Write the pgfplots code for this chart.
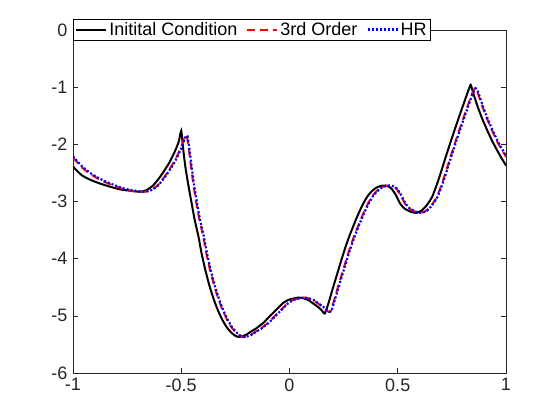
\documentclass[border=0pt]{standalone}
\usepackage{pgfplots}
\pgfplotsset{compat=1.18}
\usepackage{fontspec}
\setmainfont{Liberation Sans}
\definecolor{axgray}{rgb}{0.15,0.15,0.15}
\begin{document}
\begin{tikzpicture}
\useasboundingbox (0,0) rectangle (560pt,420pt);
\begin{axis}[
  at={(73pt,47pt)}, anchor=south west,
  width=433pt, height=343pt, scale only axis,
  xmin=-1, xmax=1, ymin=-6, ymax=0,
  xtick={-1,-0.5,0,0.5,1},
  xticklabels={-1,-0.5,0,0.5,1},
  ytick={-6,-5,-4,-3,-2,-1,0},
  yticklabels={-6,-5,-4,-3,-2,-1,0},
  tick align=inside,
  major tick length=5pt,
  axis line style={axgray, line width=0.6pt},
  every tick/.style={axgray, line width=0.6pt},
  tick label style={font=\fontsize{18}{21}\selectfont, text=axgray},
  xticklabel style={yshift=-2pt},
  yticklabel style={xshift=-2pt},
  legend columns=3,
  legend style={at={(0,1)}, anchor=north west, yshift=11pt,
    font=\fontsize{18}{21}\selectfont, draw=black, line width=0.6pt,
    inner xsep=2pt, inner ysep=1.5pt,
    nodes={inner xsep=2pt, inner ysep=1.5pt},
    /tikz/every even column/.append style={column sep=7pt}},
  legend image code/.code={\draw[#1] (0pt,0pt) -- (30pt,0pt);},
  every axis plot/.append style={smooth, tension=0.3},
]
\addplot[black, line width=2pt] coordinates {
(-1.00,-2.39) (-0.96,-2.54) (-0.92,-2.62) (-0.88,-2.68) (-0.83,-2.74) (-0.78,-2.79) (-0.74,-2.81) (-0.69,-2.83) (-0.66,-2.80) (-0.63,-2.72) (-0.60,-2.58) (-0.58,-2.47) (-0.555,-2.32) (-0.535,-2.17) (-0.52,-2.04) (-0.51,-1.93) (-0.50,-1.76)
(-0.49,-2.12) (-0.48,-2.42) (-0.466,-2.74) (-0.452,-3.03) (-0.438,-3.32) (-0.42,-3.62) (-0.407,-3.89) (-0.39,-4.18) (-0.37,-4.47) (-0.35,-4.71) (-0.33,-4.91) (-0.31,-5.07) (-0.29,-5.20) (-0.27,-5.29) (-0.25,-5.35) (-0.235,-5.37) (-0.22,-5.36) (-0.20,-5.33) (-0.18,-5.28) (-0.154,-5.22) (-0.12,-5.12) (-0.092,-5.01) (-0.06,-4.89) (-0.031,-4.78) (-0.005,-4.72) (0.015,-4.70) (0.04,-4.68) (0.061,-4.69) (0.085,-4.72) (0.108,-4.78) (0.13,-4.84) (0.148,-4.90) (0.163,-4.96)
(0.18,-4.78) (0.20,-4.52) (0.22,-4.27) (0.24,-4.02) (0.26,-3.78) (0.28,-3.57) (0.30,-3.38) (0.32,-3.20) (0.34,-3.04) (0.36,-2.91) (0.38,-2.82) (0.40,-2.76) (0.42,-2.73) (0.445,-2.72) (0.47,-2.77) (0.49,-2.88) (0.51,-3.03) (0.53,-3.12) (0.56,-3.18) (0.585,-3.20) (0.61,-3.16) (0.635,-3.06) (0.66,-2.91) (0.69,-2.60) (0.72,-2.24) (0.75,-1.89) (0.785,-1.50) (0.81,-1.23) (0.825,-1.07) (0.837,-0.96)
(0.85,-1.12) (0.87,-1.35) (0.89,-1.55) (0.915,-1.77) (0.94,-1.97) (0.97,-2.18) (1.00,-2.37)
};
\addlegendentry{Initital Condition}
\addplot[red, line width=2pt, dash pattern=on 8pt off 5pt] coordinates {
(-1.00,-2.23) (-0.96,-2.40) (-0.92,-2.52) (-0.88,-2.61) (-0.84,-2.68) (-0.80,-2.74) (-0.76,-2.79) (-0.72,-2.82) (-0.67,-2.83) (-0.64,-2.80) (-0.61,-2.72) (-0.58,-2.58) (-0.56,-2.47) (-0.535,-2.32) (-0.515,-2.17) (-0.50,-2.04) (-0.49,-1.94) (-0.481,-1.84) (-0.474,-1.86)
(-0.466,-2.05) (-0.458,-2.30) (-0.444,-2.70) (-0.43,-3.03) (-0.416,-3.32) (-0.398,-3.62) (-0.385,-3.89) (-0.368,-4.18) (-0.348,-4.47) (-0.328,-4.71) (-0.308,-4.91) (-0.288,-5.07) (-0.268,-5.20) (-0.248,-5.29) (-0.228,-5.35) (-0.213,-5.37) (-0.198,-5.36) (-0.178,-5.33) (-0.158,-5.28) (-0.132,-5.22) (-0.098,-5.12) (-0.07,-5.01) (-0.038,-4.89) (-0.009,-4.78) (0.017,-4.72) (0.037,-4.70) (0.062,-4.68) (0.083,-4.69) (0.107,-4.72) (0.13,-4.78) (0.152,-4.84) (0.17,-4.90) (0.182,-4.93) (0.190,-4.92)
(0.202,-4.78) (0.222,-4.52) (0.242,-4.27) (0.262,-4.02) (0.282,-3.78) (0.302,-3.57) (0.322,-3.38) (0.342,-3.20) (0.362,-3.04) (0.382,-2.91) (0.402,-2.82) (0.422,-2.76) (0.442,-2.73) (0.467,-2.72) (0.492,-2.77) (0.512,-2.88) (0.532,-3.03) (0.552,-3.12) (0.582,-3.18) (0.607,-3.20) (0.632,-3.16) (0.657,-3.06) (0.682,-2.91) (0.712,-2.60) (0.742,-2.24) (0.772,-1.89) (0.807,-1.50) (0.832,-1.23) (0.847,-1.08) (0.857,-1.02) (0.865,-1.05)
(0.875,-1.16) (0.892,-1.35) (0.912,-1.55) (0.937,-1.77) (0.962,-1.97) (0.985,-2.12) (1.00,-2.22)
};
\addlegendentry{3rd Order}
\addplot[blue, line width=2.2pt, dash pattern=on 2pt off 2pt] coordinates {
(-1.00,-2.21) (-0.957,-2.39) (-0.917,-2.51) (-0.877,-2.60) (-0.837,-2.67) (-0.797,-2.73) (-0.757,-2.78) (-0.717,-2.81) (-0.667,-2.83) (-0.637,-2.80) (-0.607,-2.72) (-0.577,-2.58) (-0.557,-2.47) (-0.532,-2.32) (-0.512,-2.17) (-0.497,-2.04) (-0.487,-1.94) (-0.478,-1.85) (-0.471,-1.86)
(-0.463,-2.05) (-0.455,-2.30) (-0.441,-2.70) (-0.427,-3.03) (-0.413,-3.32) (-0.395,-3.62) (-0.382,-3.89) (-0.365,-4.18) (-0.345,-4.47) (-0.325,-4.71) (-0.305,-4.91) (-0.285,-5.07) (-0.265,-5.20) (-0.245,-5.29) (-0.225,-5.35) (-0.210,-5.37) (-0.195,-5.36) (-0.175,-5.33) (-0.155,-5.28) (-0.129,-5.22) (-0.095,-5.12) (-0.067,-5.01) (-0.035,-4.89) (-0.006,-4.78) (0.020,-4.72) (0.040,-4.70) (0.065,-4.68) (0.086,-4.69) (0.110,-4.72) (0.133,-4.78) (0.155,-4.84) (0.173,-4.90) (0.185,-4.93) (0.193,-4.92)
(0.205,-4.78) (0.225,-4.52) (0.245,-4.27) (0.265,-4.02) (0.285,-3.78) (0.305,-3.57) (0.325,-3.38) (0.345,-3.20) (0.365,-3.04) (0.385,-2.91) (0.405,-2.82) (0.425,-2.76) (0.445,-2.73) (0.470,-2.72) (0.495,-2.77) (0.515,-2.88) (0.535,-3.03) (0.555,-3.12) (0.585,-3.18) (0.610,-3.20) (0.635,-3.16) (0.660,-3.06) (0.685,-2.91) (0.715,-2.60) (0.745,-2.24) (0.775,-1.89) (0.810,-1.50) (0.835,-1.23) (0.850,-1.08) (0.860,-1.02) (0.868,-1.05)
(0.878,-1.16) (0.895,-1.35) (0.915,-1.55) (0.940,-1.77) (0.965,-1.97) (0.988,-2.12) (1.00,-2.20)
};
\addlegendentry{HR}
\end{axis}
\end{tikzpicture}
\end{document}
